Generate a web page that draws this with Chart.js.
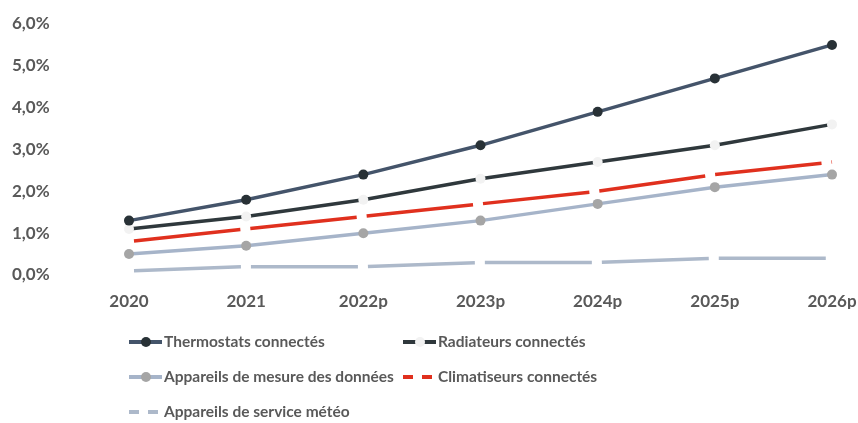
<!DOCTYPE html>
<html>
<head>
<meta charset="utf-8">
<script src="https://cdn.jsdelivr.net/npm/chart.js@4/dist/chart.umd.min.js"></script>
<style>
  html, body { margin: 0; padding: 0; background: #fff; }
  #wrap { width: 858px; height: 423px; }
</style>
</head>
<body>
<div id="wrap"><canvas id="chart"></canvas></div>
<script>
const years = ['2020', '2021', '2022p', '2023p', '2024p', '2025p', '2026p'];
const thermostats = [1.3, 1.8, 2.4, 3.1, 3.9, 4.7, 5.5];
const radiateurs = [1.1, 1.4, 1.8, 2.3, 2.7, 3.1, 3.6];
const mesure = [0.5, 0.7, 1.0, 1.3, 1.7, 2.1, 2.4];
const climatiseurs = [0.8, 1.1, 1.4, 1.7, 2.0, 2.4, 2.7];
const meteo = [0.1, 0.2, 0.2, 0.3, 0.3, 0.4, 0.4];

const textColor = '#595959';
const fontFamily = 'Lato, "Open Sans", sans-serif';

// legend drawn in two columns like the original, from dataset styles
const legendSlots = [
  { x: 129, y: 342 }, { x: 403, y: 342 },
  { x: 129, y: 377 }, { x: 403, y: 377 },
  { x: 129, y: 412 }
];

const gridLegend = {
  id: 'gridLegend',
  afterDraw(chart) {
    const ctx = chart.ctx;
    ctx.save();
    chart.data.datasets.forEach((ds, i) => {
      const s = legendSlots[i];
      if (!s) return;
      ctx.strokeStyle = ds.borderColor;
      ctx.lineWidth = 4;
      ctx.lineCap = 'butt';
      if (ds.borderDash) {
        ctx.setLineDash([10, 9]);
        ctx.lineDashOffset = 0;
      } else {
        ctx.setLineDash([]);
      }
      ctx.beginPath();
      ctx.moveTo(s.x, s.y);
      ctx.lineTo(s.x + 33, s.y);
      ctx.stroke();
      ctx.setLineDash([]);
      if (ds.pointRadius > 0) {
        ctx.fillStyle = ds.pointBackgroundColor;
        ctx.beginPath();
        ctx.arc(s.x + 17, s.y, 5, 0, Math.PI * 2);
        ctx.fill();
      }
      ctx.fillStyle = textColor;
      ctx.font = 'bold 15.5px ' + fontFamily;
      ctx.textBaseline = 'middle';
      ctx.textAlign = 'left';
      ctx.fillText(ds.label, s.x + 35, s.y);
    });
    ctx.restore();
  }
};

new Chart(document.getElementById('chart'), {
  type: 'line',
  data: {
    labels: years,
    datasets: [
      {
        label: 'Thermostats connectés',
        data: thermostats,
        borderColor: '#44546A',
        pointBackgroundColor: '#283136',
        pointRadius: 5,
        pointBorderWidth: 0,
        borderWidth: 3.5
      },
      {
        label: 'Radiateurs connectés',
        data: radiateurs,
        borderColor: '#2F383C',
        pointBackgroundColor: '#F2F2F2',
        pointRadius: 5,
        pointBorderWidth: 0,
        borderWidth: 3.5
      },
      {
        label: 'Appareils de mesure des données',
        data: mesure,
        borderColor: '#A6B4C9',
        pointBackgroundColor: '#A5A5A5',
        pointRadius: 5,
        pointBorderWidth: 0,
        borderWidth: 3.5
      },
      {
        label: 'Climatiseurs connectés',
        data: climatiseurs,
        borderColor: '#E0301E',
        borderDash: [107, 10],
        borderDashOffset: 112,
        pointRadius: 0,
        borderWidth: 3.5
      },
      {
        label: 'Appareils de service météo',
        data: meteo,
        borderColor: '#ADB9CA',
        borderDash: [107, 10],
        borderDashOffset: 112,
        pointRadius: 0,
        borderWidth: 3.5
      }
    ]
  },
  options: {
    responsive: true,
    maintainAspectRatio: false,
    animation: false,
    layout: { padding: { left: 12, right: 26, top: 24, bottom: 114 } },
    plugins: {
      legend: { display: false },
      tooltip: { enabled: false }
    },
    elements: { line: { tension: 0 } },
    scales: {
      x: {
        offset: false,
        grid: { display: false, drawTicks: false },
        border: { display: false },
        ticks: {
          color: textColor,
          padding: 16,
          maxRotation: 0,
          font: { family: fontFamily, size: 17, weight: 'bold' }
        },
        afterFit(scale) {
          scale.height = 34;
          scale.paddingLeft = 0;
          scale.paddingRight = 0;
        }
      },
      y: {
        min: 0,
        max: 6,
        grid: { display: false, drawTicks: false },
        border: { display: false },
        ticks: {
          stepSize: 1,
          color: textColor,
          crossAlign: 'far',
          font: { family: fontFamily, size: 17, weight: 'bold' },
          callback: v => v.toFixed(1).replace('.', ',') + '%'
        },
        afterFit(scale) {
          scale.width = 117;
          scale.paddingTop = 0;
          scale.paddingBottom = 0;
        }
      }
    }
  },
  plugins: [gridLegend]
});
</script>
</body>
</html>
